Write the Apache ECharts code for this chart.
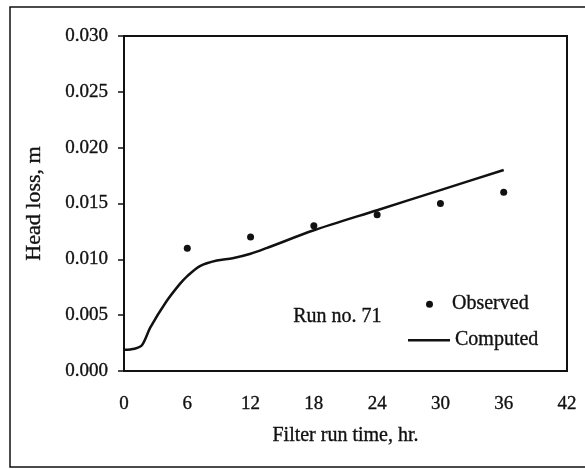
<!DOCTYPE html>
<html>
<head>
<meta charset="utf-8">
<script src="https://cdn.jsdelivr.net/npm/echarts@6/dist/echarts.min.js"></script>
<style>
  html, body { margin: 0; padding: 0; background: #fff; }
  #chart { width: 585px; height: 469px; }
</style>
</head>
<body>
<div id="chart"></div>
<script>
// Filter run time (hr) and measured head loss (m)
var observedTime = [6, 12, 18, 24, 30, 36];
var observedLoss = [0.011, 0.012, 0.013, 0.014, 0.015, 0.016];

// Model curve
var computedTime = [0, 1, 1.7, 2.5, 4, 5.3, 6, 7.2, 8.8, 10.3, 12, 13.5, 18, 24, 30, 36];
var computedLoss = [0.0019, 0.0020, 0.0023, 0.0039, 0.0062, 0.0078, 0.0085, 0.0094, 0.0099, 0.0101, 0.0105, 0.0110, 0.0126, 0.0144, 0.0162, 0.0180];

var xTicks = [0, 6, 12, 18, 24, 30, 36, 42];
var yTicks = [0.000, 0.005, 0.010, 0.015, 0.020, 0.025, 0.030];

var font = 'Liberation Serif';
var ink = '#111';
// slight outline so the serif type reads as heavy as printed text
var heavy = { textBorderColor: ink, textBorderWidth: 0.35 };

function pairs(xs, ys) {
  return xs.map(function (x, i) { return [x, ys[i]]; });
}
function txt(size, extra) {
  return Object.assign({ fontFamily: font, fontSize: size, color: ink }, heavy, extra || {});
}

var chart = echarts.init(document.getElementById('chart'), null, { renderer: 'canvas' });

chart.setOption({
  animation: false,
  backgroundColor: '#fff',
  textStyle: { fontFamily: font, color: ink },
  grid: {
    left: 124, top: 36, right: 18, bottom: 98,
    show: true, borderColor: ink, borderWidth: 2, backgroundColor: 'transparent'
  },
  xAxis: {
    type: 'value',
    min: xTicks[0], max: xTicks[xTicks.length - 1], interval: 6,
    name: 'Filter run time, hr.',
    nameLocation: 'middle', nameGap: 55,
    nameTextStyle: txt(20),
    axisLine: { show: true, lineStyle: { color: ink, width: 2 } },
    axisTick: { show: false },
    splitLine: { show: false },
    axisLabel: txt(19, { margin: 24 })
  },
  yAxis: {
    type: 'value',
    min: yTicks[0], max: yTicks[yTicks.length - 1], interval: 0.005,
    name: 'Head loss, m',
    nameLocation: 'middle', nameGap: 79, nameRotate: 90,
    nameTextStyle: txt(22),
    axisLine: { show: true, lineStyle: { color: ink, width: 2 } },
    axisTick: { show: true, inside: false, length: 6, lineStyle: { color: ink, width: 1.5 } },
    splitLine: { show: false },
    axisLabel: txt(19, {
      margin: 16,
      formatter: function (v) { return v.toFixed(3); }
    })
  },
  legend: [
    {
      data: ['Observed'],
      left: 421, top: 289,
      icon: 'circle', itemWidth: 7, itemHeight: 7,
      itemStyle: { opacity: 1 },
      textStyle: txt(20, { padding: [0, 0, 0, 14] })
    },
    {
      data: [{ name: 'Computed', icon: 'rect' }],
      left: 403, top: 325,
      itemWidth: 42, itemHeight: 2.5,
      textStyle: txt(20)
    }
  ],
  graphic: [
    {
      type: 'rect', silent: true,
      shape: { x: 10, y: 7, width: 600, height: 460 },
      style: { fill: 'none', stroke: ink, lineWidth: 1.5 }
    },
    {
      type: 'text', left: 293, top: 307, silent: true,
      style: Object.assign({ text: 'Run no. 71', font: '20px "Liberation Serif"', fill: ink, stroke: ink, lineWidth: 0.35 })
    }
  ],
  series: [
    {
      name: 'Computed',
      type: 'line',
      data: pairs(computedTime, computedLoss),
      smooth: 0.3,
      showSymbol: false,
      symbol: 'none',
      lineStyle: { color: ink, width: 2.5 },
      itemStyle: { color: ink },
      z: 2
    },
    {
      name: 'Observed',
      type: 'scatter',
      data: pairs(observedTime, observedLoss),
      symbol: 'circle',
      symbolSize: 7,
      itemStyle: { color: ink, opacity: 1 },
      z: 3
    }
  ]
});
</script>
</body>
</html>
